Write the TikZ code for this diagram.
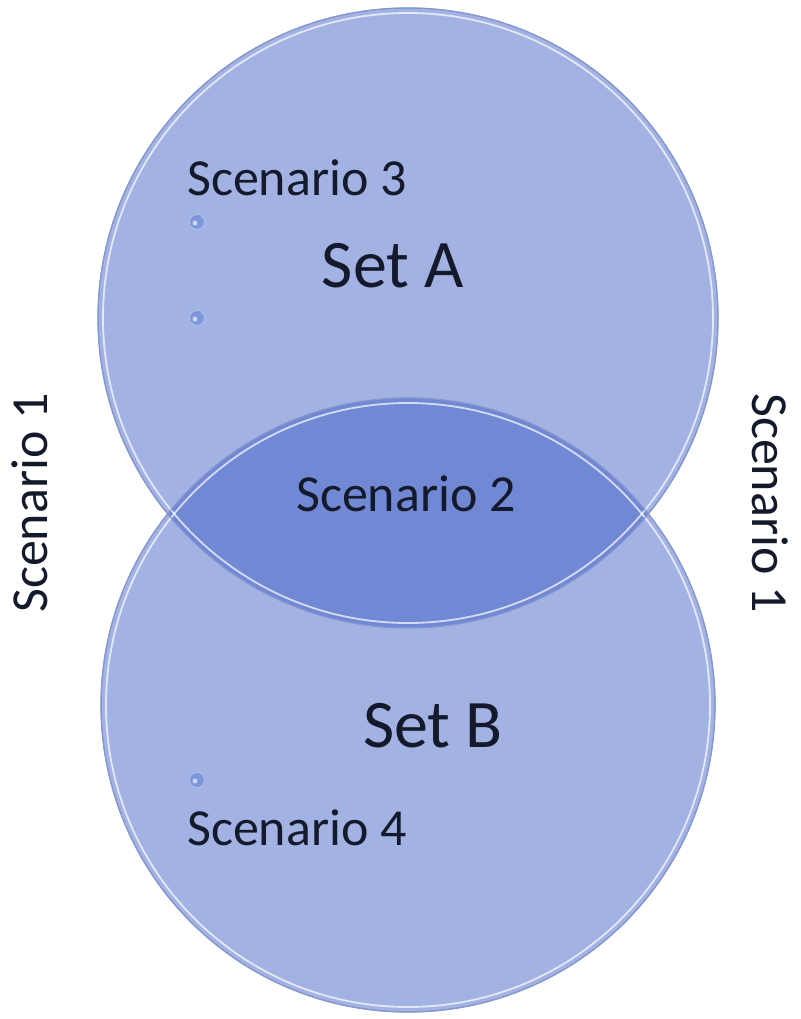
\documentclass[tikz,border=0pt]{standalone}
\usepackage{fontspec}
\setmainfont{Carlito}
\definecolor{setfill}{HTML}{A1B2E3}
\definecolor{lensfill}{HTML}{7189D4}
\definecolor{rimdark}{HTML}{8597CC}
\definecolor{dotfill}{HTML}{7D97DE}
\definecolor{txt}{HTML}{141A2B}
\begin{document}
\begin{tikzpicture}[x=1pt,y=-1pt,
  setcircle/.style={fill=setfill,draw=rimdark,line width=1.2pt},
  rim/.style={draw=white,line width=1.8pt,opacity=0.7},
  lbl/.style={text=txt,inner sep=0pt,font=\fontsize{52}{62}\selectfont},
  biglbl/.style={text=txt,inner sep=0pt,font=\fontsize{68}{80}\selectfont},
  bubble/.style={circle,fill=dotfill,draw=dotfill!60!white,line width=0.8pt,minimum size=15pt,inner sep=0pt}]
\useasboundingbox (0,0) rectangle (800,1019);
% circles
\coordinate (ca) at (408,318);
\coordinate (cb) at (408,705);
\draw[setcircle] (ca) circle[radius=310];
\draw[setcircle] (cb) circle[radius=307];
% lens
\begin{scope}
  \clip (ca) circle[radius=310];
  \fill[lensfill] (cb) circle[radius=307];
\end{scope}
% rims / highlights
\draw[rim] (ca) circle[radius=305];
\draw[rim] (cb) circle[radius=302];
\draw[draw=rimdark,line width=1pt] (ca) circle[radius=310];
\draw[draw=rimdark,line width=1pt] (cb) circle[radius=307];
% bubbles
\node[bubble] (d1) at (197,222) {};
\node[bubble] (d2) at (197,318) {};
\node[bubble] (d3) at (197,780) {};
\fill[white,opacity=0.6] (d1.center) ++(-2,1) circle[radius=2.5];
\fill[white,opacity=0.6] (d2.center) ++(-2,1) circle[radius=2.5];
\fill[white,opacity=0.6] (d3.center) ++(-2,1) circle[radius=2.5];
% labels
\node[lbl] (s3) at (297,178) {Scenario 3};
\node[biglbl] (sa) at (393,266) {Set A};
\node[lbl] (s2) at (406,494) {Scenario 2};
\node[biglbl] (sb) at (433,726) {Set B};
\node[lbl] (s4) at (297,828) {Scenario 4};
\node[lbl,rotate=90] (s1l) at (30,503) {Scenario 1};
\node[lbl,rotate=-90] (s1r) at (770,503) {Scenario 1};
\end{tikzpicture}
\end{document}
